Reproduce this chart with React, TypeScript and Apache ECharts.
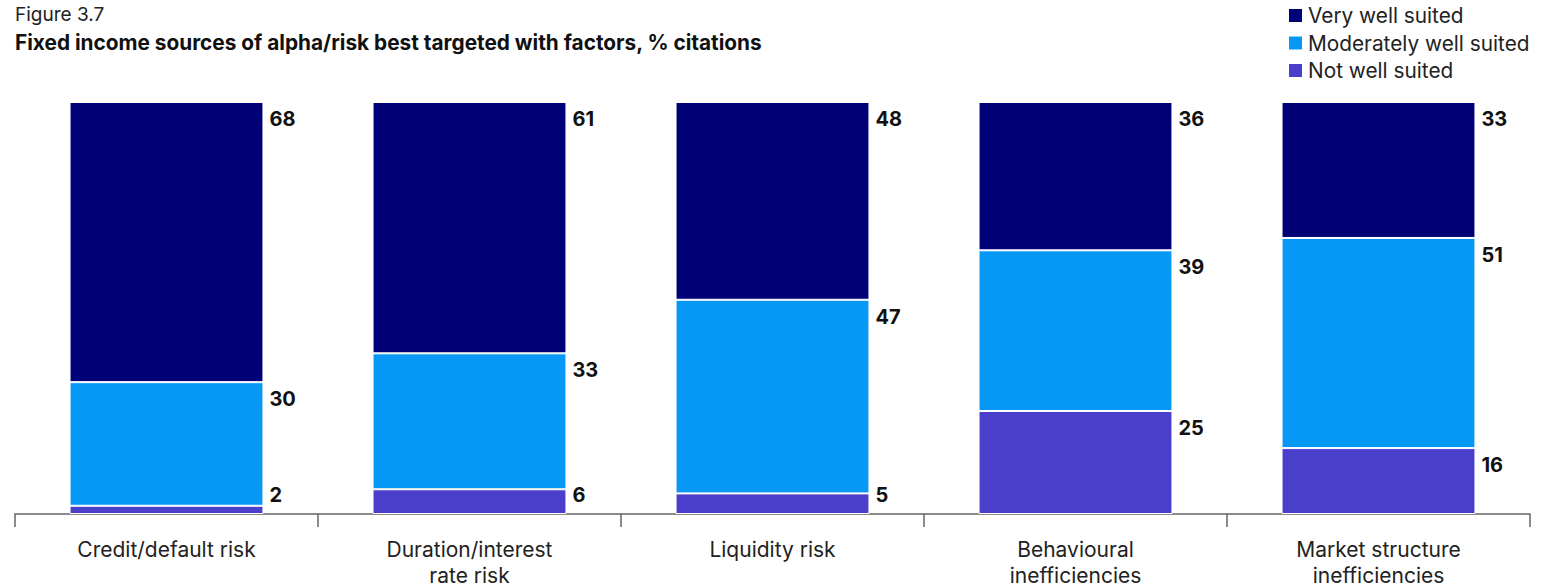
import React, { useEffect, useRef } from "react";
import * as echarts from "echarts";

const categories = [
  "Credit/default risk",
  "Duration/interest\nrate risk",
  "Liquidity risk",
  "Behavioural\ninefficiencies",
  "Market structure\ninefficiencies",
];
const notWell = [2, 6, 5, 25, 16];
const moderately = [30, 33, 47, 39, 51];
const veryWell = [68, 61, 48, 36, 33];

const FONT = "Inter, 'Noto Sans', sans-serif";

function makeData(values: number[]) {
  return values.map((v) =>
    v < 8
      ? {
          value: v,
          label: {
            position: ["100%", "100%"],
            verticalAlign: "bottom",
            offset: [6, -9],
          },
        }
      : v
  );
}

export default function App() {
  const ref = useRef<HTMLDivElement>(null);
  useEffect(() => {
    document.body.style.margin = "0";
    const chart = echarts.init(ref.current!, null, { renderer: "svg" });
    const label = {
      show: true,
      position: ["100%", 0],
      align: "left",
      verticalAlign: "top",
      offset: [6, 7],
      fontFamily: FONT,
      fontWeight: "bold",
      fontSize: 20,
      color: "#111",
    };
    const mk = (name: string, data: number[], color: string) => ({
      name,
      type: "bar",
      stack: "total",
      barWidth: "64%",
      data: makeData(data),
      itemStyle: { color, borderColor: "#fff", borderWidth: 1 },
      label,
    });
    chart.setOption({
      animation: false,
      title: [
        {
          text: "Figure 3.7",
          left: 15,
          top: 5,
          padding: 0,
          textStyle: { fontFamily: FONT, fontWeight: "normal", fontSize: 19, color: "#222" },
        },
        {
          text: "Fixed income sources of alpha/risk best targeted with factors, % citations",
          left: 15,
          top: 32,
          padding: 0,
          textStyle: { fontFamily: FONT, fontWeight: "bold", fontSize: 20.8, color: "#111" },
        },
      ],
      legend: {
        orient: "vertical",
        left: 1287,
        top: 5,
        padding: 0,
        itemWidth: 15,
        itemHeight: 15,
        itemGap: 6.5,
        icon: "rect",
        data: ["Very well suited", "Moderately well suited", "Not well suited"],
        textStyle: { fontFamily: FONT, fontSize: 20.8, color: "#222" },
      },
      grid: { left: 15, right: 14, top: 102, bottom: 70 },
      xAxis: {
        type: "category",
        data: categories,
        axisLine: { lineStyle: { color: "#666", width: 1.5 } },
        axisTick: { show: true, length: 13, lineStyle: { color: "#666", width: 1.5 } },
        axisLabel: {
          fontFamily: FONT,
          fontSize: 21,
          color: "#222",
          margin: 22,
          lineHeight: 26,
        },
      },
      yAxis: {
        type: "value",
        min: 0,
        max: 100,
        show: false,
      },
      series: [
        mk("Not well suited", notWell, "#4A3FCB"),
        mk("Moderately well suited", moderately, "#0798F6"),
        mk("Very well suited", veryWell, "#000077"),
      ],
    });
    return () => chart.dispose();
  }, []);
  return <div ref={ref} style={{ width: 1544, height: 588 }} />;
}
